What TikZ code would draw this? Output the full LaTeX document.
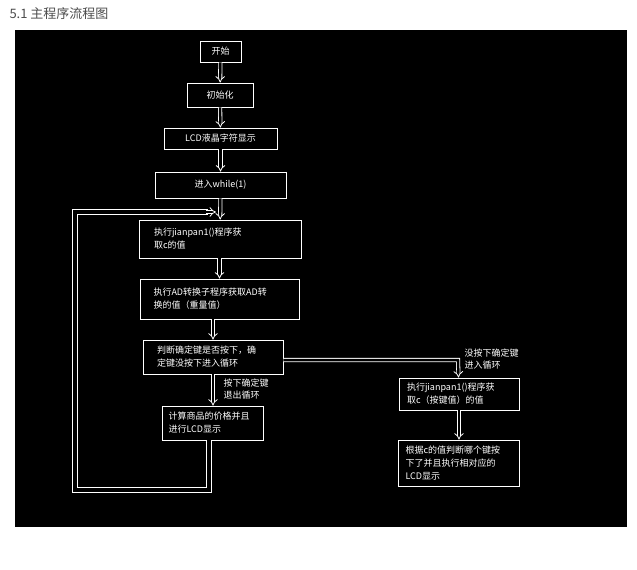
\documentclass[tikz,border=0pt]{standalone}
\usepackage{fontspec}
\setmainfont{Noto Sans CJK SC}
\usetikzlibrary{arrows.meta,positioning}
\tikzset{
  box/.style={draw=white,line width=.9pt,text=white,align=left,inner sep=1pt,
    font=\fontsize{9}{13}\selectfont},
  flow/.style={double=black,draw=white,double distance=2.5pt,line width=.8pt,-{Implies}},
  loopline/.style={double=black,draw=white,double distance=3.5pt,line width=.9pt},
  note/.style={text=white,align=left,font=\fontsize{9}{12.5}\selectfont}
}
\begin{document}
\begin{tikzpicture}[x=1pt,y=-1pt]
\useasboundingbox (0,0) rectangle (637,570);
\fill[black] (15,30) rectangle (627,527);
\node[anchor=west,font=\fontsize{13}{15}\selectfont,text=black!70] (title) at (6,14) {5.1 主程序流程图};
  % Nodes
  \node[box,minimum width=41,minimum height=21] (start) at (220.5,51.5) {开始};
  \node[box,minimum width=66,minimum height=24] (init) at (220,95) {初始化};
  \node[box,minimum width=113,minimum height=21] (lcd) at (220.5,138.5) {LCD液晶字符显示};
  \node[box,minimum width=131,minimum height=26] (while) at (220.5,185) {进入while(1)};
  \node[box,minimum width=162,minimum height=38,text width=132] (key) at (220,239) {执行jianpan1()程序获\\取c的值};
  \node[box,minimum width=159,minimum height=40,text width=132] (ad) at (219.5,299) {执行AD转换子程序获取AD转\\换的值（重量值）};
  \node[box,minimum width=140,minimum height=34,text width=112] (judge) at (213,357) {判断确定键是否按下，确\\定键没按下进入循环};
  \node[box,minimum width=101,minimum height=34,text width=88] (calc) at (212.5,423) {计算商品的价格并且\\进行LCD显示};
  \node[box,minimum width=120,minimum height=32,text width=104] (rkey) at (459,394) {执行jianpan1()程序获\\取c（按键值）的值};
  \node[box,minimum width=121,minimum height=46,text width=106] (show) at (458.5,463) {根据c的值判断哪个键按\\下了并且执行相对应的\\LCD显示};
  \node[note,anchor=north west] (exitlbl) at (220,375) {按下确定键\\退出循环};
  \node[note,anchor=north west] (looplbl) at (461,345) {没按下确定键\\进入循环};
  \coordinate (turn) at (458,360);
  \coordinate (c1) at (209,490);
  \coordinate (c2) at (75,490);
  \coordinate (c3) at (75,212);
  \coordinate (c4) at (216,212);
  % Edges
  \draw[flow] (start) -- (init);
  \draw[flow] (init) -- (lcd);
  \draw[flow] (lcd) -- (while);
  \draw[flow] (while) -- (key);
  \draw[flow] (key.south -| ad.north) -- (ad);
  \draw[flow] (ad.south -| judge.north) -- (judge);
  \draw[flow] (judge) -- (judge |- calc.north);
  \draw[flow] (judge.east |- turn) -- (turn) -- (rkey);
  \draw[flow] (rkey) -- (rkey |- show.north);
  \draw[loopline] (c1 |- calc.south) -- (c1) -- (c2) -- (c3) -- ([xshift=-8]c4);
  \draw[flow,shorten <=-1pt] ([xshift=-9]c4) -- (c4);
\end{tikzpicture}
\end{document}
